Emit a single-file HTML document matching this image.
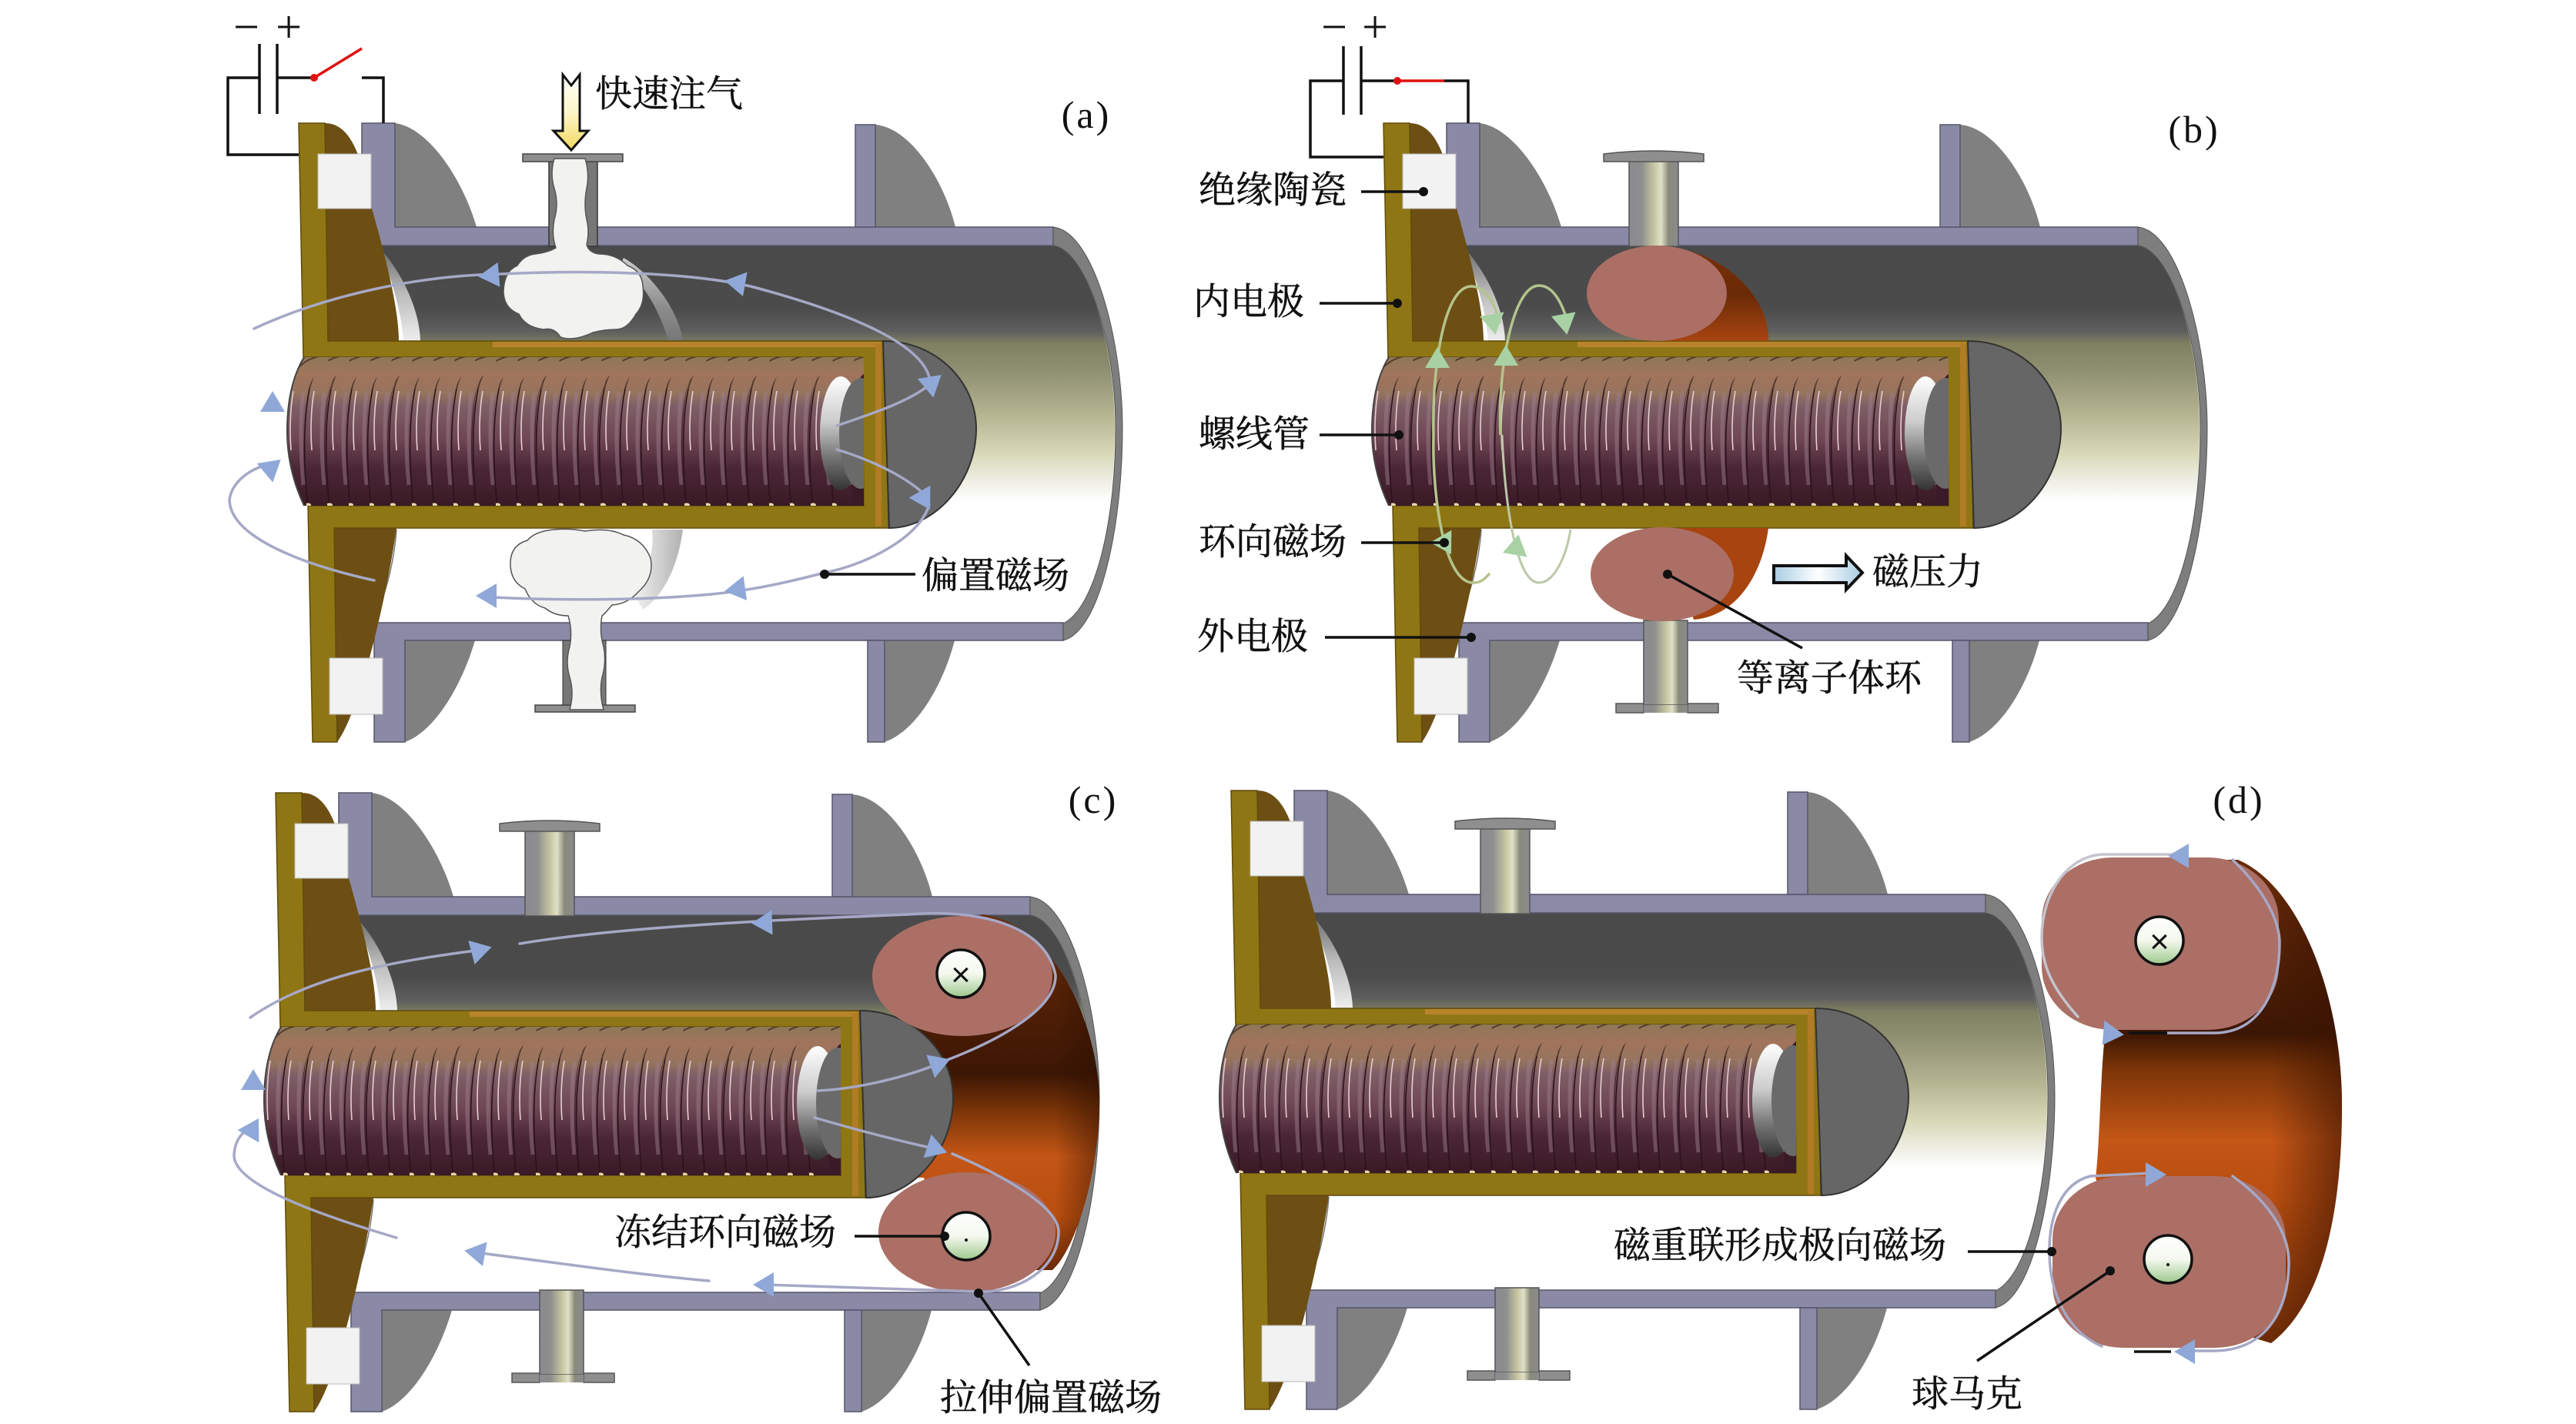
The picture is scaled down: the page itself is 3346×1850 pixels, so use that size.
<!DOCTYPE html>
<html><head><meta charset="utf-8">
<style>
html,body{margin:0;padding:0;background:#fff}
svg{display:block}
.c{font-family:"Liberation Serif","Noto Serif CJK SC",serif;font-size:48px;fill:#111;stroke:#111;stroke-width:.5px;transform:translate(-6px,-2px)}
.p{font-family:"Liberation Serif",serif;font-size:50px;letter-spacing:3px;fill:#111;text-anchor:middle;transform:translate(-6px,-4px)}
.s{font-family:"Liberation Serif",serif;font-size:60px;fill:#111;text-anchor:middle;transform:translate(-2px,0)}
.f{fill:none;stroke:#a6a8c6;stroke-width:3.5;stroke-linecap:round}
.g{fill:none;stroke:#b4c48c;stroke-width:3.5}
.w{fill:none;stroke:#111;stroke-width:3.5}
.l{stroke:#111;stroke-width:3.5}
</style></head>
<body>
<svg xmlns="http://www.w3.org/2000/svg" width="3346" height="1850" viewBox="0 0 3346 1850">
<defs>
<linearGradient id="inner" gradientUnits="userSpaceOnUse" x1="0" y1="319" x2="0" y2="810">
<stop offset="0" stop-color="#4a4a4a"/><stop offset=".165" stop-color="#4b4b4b"/><stop offset=".226" stop-color="#5e5e5e"/><stop offset=".26" stop-color="#7f7f62"/><stop offset=".33" stop-color="#8f8f72"/><stop offset=".45" stop-color="#b5b592"/><stop offset=".55" stop-color="#d8d8b8"/><stop offset=".617" stop-color="#ecece0"/><stop offset=".675" stop-color="#fff"/><stop offset="1" stop-color="#fff"/>
</linearGradient>
<linearGradient id="cres" x1="0" y1="0" x2="0" y2="1"><stop offset="0" stop-color="#666"/><stop offset=".5" stop-color="#bbb"/><stop offset="1" stop-color="#eee"/></linearGradient>
<linearGradient id="cr2" x1="0" y1="0" x2="0" y2="1"><stop offset="0" stop-color="#ccc"/><stop offset=".6" stop-color="#8c8c8c"/><stop offset="1" stop-color="#777"/></linearGradient>
<linearGradient id="cr3" x1="0" y1="0" x2="1" y2="0"><stop offset="0" stop-color="#f4f4f4"/><stop offset="1" stop-color="#b0b0b0"/></linearGradient>
<linearGradient id="coilg" gradientUnits="userSpaceOnUse" x1="0" y1="464" x2="0" y2="657">
<stop offset="0" stop-color="#8e7858"/><stop offset=".12" stop-color="#a2745c"/><stop offset=".24" stop-color="#96745e"/><stop offset=".33" stop-color="#7e5e66"/><stop offset=".55" stop-color="#6e4654"/><stop offset=".75" stop-color="#4a2634"/><stop offset="1" stop-color="#3a1a26"/>
</linearGradient>
<linearGradient id="silver" x1="0" y1="0" x2="0" y2="1"><stop offset="0" stop-color="#fff"/><stop offset=".4" stop-color="#ccc"/><stop offset=".7" stop-color="#777"/><stop offset="1" stop-color="#333"/></linearGradient>
<linearGradient id="metal" x1="0" y1="0" x2="1" y2="0"><stop offset="0" stop-color="#8a8a90"/><stop offset=".25" stop-color="#8e8e8e"/><stop offset=".5" stop-color="#c4c4a0"/><stop offset=".65" stop-color="#e0e0c8"/><stop offset=".8" stop-color="#8a8a7a"/><stop offset="1" stop-color="#8a8a90"/></linearGradient>
<linearGradient id="core" x1="0" y1="0" x2="0" y2="1"><stop offset="0" stop-color="#fff"/><stop offset=".5" stop-color="#f4f8ee"/><stop offset="1" stop-color="#9cc88c"/></linearGradient>
<linearGradient id="arrowY" x1="0" y1="0" x2="0" y2="1"><stop offset="0" stop-color="#fff"/><stop offset=".5" stop-color="#fdf6c8"/><stop offset="1" stop-color="#f2d860"/></linearGradient>
<linearGradient id="arrowB" x1="0" y1="0" x2="1" y2="0"><stop offset="0" stop-color="#a8cce4"/><stop offset=".5" stop-color="#fff"/><stop offset="1" stop-color="#a8cce4"/></linearGradient>
<linearGradient id="ob" x1="0" y1="0" x2="0" y2="1"><stop offset="0" stop-color="#7a3208"/><stop offset=".5" stop-color="#6a2a06"/><stop offset="1" stop-color="#a84410"/></linearGradient>
<linearGradient id="oc" gradientUnits="userSpaceOnUse" x1="0" y1="1188" x2="0" y2="1650">
<stop offset="0" stop-color="#6a2c08"/><stop offset=".45" stop-color="#3c1604"/><stop offset=".55" stop-color="#7a3408"/><stop offset=".68" stop-color="#c45616"/><stop offset=".85" stop-color="#b84e10"/><stop offset="1" stop-color="#6a2a08"/>
</linearGradient>
<linearGradient id="od" gradientUnits="userSpaceOnUse" x1="0" y1="1117" x2="0" y2="1745">
<stop offset="0" stop-color="#6a2c08"/><stop offset=".36" stop-color="#3c1604"/><stop offset=".43" stop-color="#7a3408"/><stop offset=".58" stop-color="#c45616"/><stop offset=".7" stop-color="#b84e10"/><stop offset="1" stop-color="#6a2a06"/>
</linearGradient>
<linearGradient id="edgec" gradientUnits="userSpaceOnUse" x1="1370" y1="0" x2="1430" y2="0"><stop offset="0" stop-color="#2a0e00" stop-opacity="0"/><stop offset="1" stop-color="#2a0e00" stop-opacity=".5"/></linearGradient>
<linearGradient id="edged" gradientUnits="userSpaceOnUse" x1="2950" y1="0" x2="3042" y2="0"><stop offset="0" stop-color="#3a1200" stop-opacity="0"/><stop offset="1" stop-color="#3a1200" stop-opacity=".6"/></linearGradient>
<clipPath id="coilclip"><path d="M395 464L1122 464L1122 657L395 657Q373 610 373 560Q373 500 395 464Z"/></clipPath>
<g id="t">
<path d="M385 662C379 600 379 540 387 505C392 482 404 470 426 466" fill="none" stroke="url(#coilg)" stroke-width="27"/>
<path d="M373 660C367 600 367 545 375 505" fill="none" stroke="#2c121c" stroke-width="1.6"/>
<path d="M375 505C380 482 392 468 414 463" fill="none" stroke="#553a2e" stroke-width="2"/>
<path d="M378 585C376 560 377 530 381 508" fill="none" stroke="#e6ccd4" stroke-width="1.6"/>
<path d="M394 630C390 590 390 540 394 510" fill="none" stroke="#a08090" stroke-width="5" opacity=".45"/>
<ellipse cx="373" cy="656" rx="4" ry="2.5" fill="#e8d8a8"/>
</g>
<path id="dome" d="M1147 443C1215 443 1268 495 1268 557C1268 625 1215 686 1155 686Z" fill="#666" stroke="#333" stroke-width="2"/>
<polygon id="ah" points="14,0 -13,-16 -13,16" fill="#8fa8d8"/>
<polygon id="ag" points="14,0 -13,-16 -13,16" fill="#a8d2a4"/>
<g id="dev">
<path d="M490 319L1368 319C1410 325 1448 440 1448 557C1448 680 1420 790 1381 810L490 810L480 810C505 760 515 720 515 688L546 660L546 443C540 400 520 350 490 319Z" fill="url(#inner)"/>
<path d="M490 319C520 350 545 400 546 443L524 443C521 400 505 350 490 319Z" fill="url(#cres)"/>
<path d="M515 688C512 730 500 780 482 810" fill="none" stroke="#777" stroke-width="1.5"/>
<path d="M513 160C555 165 600 230 619 295L513 295Z" fill="#808080"/>
<path d="M1137 162C1180 165 1225 230 1241 295L1137 295Z" fill="#808080"/>
<path d="M526 832L617 832C600 890 565 950 526 964Z" fill="#808080"/>
<path d="M1149 832L1240 832C1225 890 1190 950 1149 964Z" fill="#808080"/>
<path d="M470 160L513 160L513 295L1368 295L1368 319L484 319L470 300Z" fill="#8a8aa6" stroke="#55556a" stroke-width="1.5"/>
<path d="M1111 162L1137 162L1137 295L1111 295Z" fill="#8a8aa6" stroke="#55556a" stroke-width="1.5"/>
<path d="M486 809L1381 809L1381 832L526 832L526 964L486 964Z" fill="#8a8aa6" stroke="#55556a" stroke-width="1.5"/>
<path d="M1127 832L1149 832L1149 964L1127 964Z" fill="#8a8aa6" stroke="#55556a" stroke-width="1.5"/>
<path d="M1368 295C1420 300 1458 440 1458 557C1458 680 1430 820 1381 832L1381 810C1422 790 1449 680 1449 557C1449 440 1410 325 1368 319Z" fill="#7e7e7e" stroke="#555" stroke-width="1"/>
<path d="M422 160C450 160 468 190 480 260C500 330 518 400 518 443L426 443Z" fill="#6d4f14"/>
<path d="M434 686L515 686C505 760 470 920 438 964Z" fill="#6d4f14"/>
<polygon points="388,160 422,160 426,443 1150,443 1154,686 434,686 438,964 406,964 400,657 1122,657 1120,464 394,464" fill="#8f7614" stroke="#5e4c0c" stroke-width="1.5"/>
<rect x="640" y="444" width="505" height="7" fill="#b8842a"/>
<rect x="1137" y="446" width="8" height="238" fill="#b07c24"/>
<g clip-path="url(#coilclip)">
<rect x="373" y="464" width="750" height="193" fill="#3a1a26"/>
<use href="#t" x="710"/><use href="#t" x="683"/><use href="#t" x="655"/><use href="#t" x="628"/><use href="#t" x="601"/><use href="#t" x="573"/><use href="#t" x="546"/><use href="#t" x="519"/><use href="#t" x="491"/><use href="#t" x="464"/><use href="#t" x="437"/><use href="#t" x="410"/><use href="#t" x="382"/><use href="#t" x="355"/><use href="#t" x="328"/><use href="#t" x="300"/><use href="#t" x="273"/><use href="#t" x="246"/><use href="#t" x="218"/><use href="#t" x="191"/><use href="#t" x="164"/><use href="#t" x="137"/><use href="#t" x="109"/><use href="#t" x="82"/><use href="#t" x="55"/><use href="#t" x="27"/><use href="#t" x="0"/>
<ellipse cx="1092" cy="563" rx="27" ry="74" fill="url(#silver)"/>
<ellipse cx="1118" cy="563" rx="28" ry="72" fill="#6a6a6a"/>
</g>
<path d="M373 560Q373 500 395 464M373 560Q373 610 395 657" fill="none" stroke="#444" stroke-width="2"/>
<use href="#dome"/>
<rect x="413" y="200" width="69" height="71" fill="#f2f2f2" stroke="#bbb"/>
<rect x="428" y="855" width="69" height="73" fill="#f2f2f2" stroke="#bbb"/>
</g>
<g id="pipes">
<rect x="712" y="208" width="64" height="112" fill="url(#metal)" stroke="#555" stroke-width="1.5"/>
<path d="M679 200Q744 192 809 200L809 210L679 210Z" fill="#8e8e8e" stroke="#555" stroke-width="1.5"/>
<rect x="731" y="806" width="57" height="110" fill="url(#metal)" stroke="#555" stroke-width="1.5"/>
<rect x="695" y="914" width="36" height="12" fill="#8e8e8e" stroke="#555" stroke-width="1.5"/>
<rect x="788" y="914" width="40" height="12" fill="#8e8e8e" stroke="#555" stroke-width="1.5"/>
<rect x="731" y="916" width="57" height="10" fill="url(#metal)"/>
</g>
</defs>

<!-- (a) -->
<use href="#dev"/>
<rect x="713" y="208" width="63" height="112" fill="#777" stroke="#333" stroke-width="1.5"/>
<rect x="679" y="200" width="130" height="10" fill="#8e8e8e" stroke="#444" stroke-width="1.5"/>
<rect x="731" y="832" width="56" height="86" fill="#777" stroke="#333"/>
<rect x="695" y="916" width="130" height="9" fill="#8e8e8e" stroke="#444" stroke-width="1.5"/>
<path d="M810 335C845 355 880 400 887 442L868 442C855 400 835 365 805 345Z" fill="url(#cr2)"/>
<path d="M847 688L887 688C880 740 860 775 835 792L822 770C840 745 850 720 847 688Z" fill="url(#cr3)"/>
<path d="M720 206Q714 225 720 245Q726 265 720 285Q716 305 722 322Q712 328 695 330Q680 332 672 345Q655 352 654 378Q654 400 674 408Q682 425 706 428Q720 425 728 438Q745 444 770 432Q785 428 800 428Q815 428 826 408Q838 395 835 372Q834 352 815 345Q800 330 778 330Q765 328 762 318Q766 300 762 285Q758 265 762 245Q766 225 760 206Z" fill="#f2f2f1" stroke="#555" stroke-width="1.5"/>
<path d="M740 922Q746 900 740 880Q734 860 740 840Q744 820 738 800Q720 800 708 790Q690 785 682 765Q662 755 663 730Q664 708 685 702Q695 690 720 688Q740 686 760 690Q790 685 810 695Q835 700 845 725Q850 750 830 768Q815 785 795 786Q785 798 782 800Q778 820 784 840Q788 860 782 880Q778 900 784 922Z" fill="#f2f2f1" stroke="#555" stroke-width="1.5"/>
<path class="f" d="M330 427C420 385 540 358 650 356C780 350 900 355 975 372C1100 405 1195 445 1207 490"/>
<path class="f" d="M1087 553C1140 535 1185 520 1212 496"/>
<path class="f" d="M1087 584C1140 600 1185 625 1203 645"/>
<path class="f" d="M1207 655C1195 700 1120 735 1071 744C1010 760 960 770 900 774C820 780 720 780 640 776"/>
<path class="f" d="M486 754C400 735 300 700 298 650C300 625 330 605 354 603"/>
<use href="#ah" transform="translate(635,358) rotate(175)"/>
<use href="#ah" transform="translate(955,367) rotate(190)"/>
<use href="#ah" transform="translate(1212,496) rotate(-40)"/>
<use href="#ah" transform="translate(1201,650) rotate(60)"/>
<use href="#ah" transform="translate(955,766) rotate(172)"/>
<use href="#ah" transform="translate(632,774) rotate(180)"/>
<use href="#ah" transform="translate(354,522) rotate(-90)"/>
<use href="#ah" transform="translate(354,606) rotate(-40)"/>
<line class="l" x1="337" y1="57" x2="337" y2="148"/><line class="l" x1="360" y1="57" x2="360" y2="148"/>
<path class="w" d="M337 101L296 101L296 201L388 201"/>
<path class="w" d="M360 101L408 101"/>
<path class="w" d="M470 101L498 101L498 160"/>
<line x1="408" y1="101" x2="470" y2="63" stroke="#e01010" stroke-width="3.5"/>
<circle cx="408" cy="101" r="5" fill="#e01010"/>
<text class="s" x="322" y="55">−</text><text class="s" x="377" y="55">+</text>
<path d="M731 97L742 111L753 97L753 170L764 170L742 195L719 170L731 170Z" fill="url(#arrowY)" stroke="#111" stroke-width="3"/>
<text class="c" x="779" y="140">快速注气</text>
<text class="p" x="1417" y="170">(a)</text>
<line class="l" x1="1071" y1="746" x2="1189" y2="746"/><circle cx="1071" cy="746" r="6" fill="#111"/>
<text class="c" x="1203" y="766">偏置磁场</text>

<!-- (b) -->
<use href="#dev" transform="translate(1409,0)"/>
<use href="#pipes" transform="translate(1404,0)"/>
<path d="M2150 320C2240 320 2300 390 2297 443L2160 443Z" fill="url(#ob)"/>
<path d="M2160 686L2297 686C2290 740 2260 800 2200 805Z" fill="#a84410"/>
<ellipse cx="2152" cy="381" rx="91" ry="62" fill="#ab6f66"/>
<ellipse cx="2159" cy="746" rx="93" ry="61" fill="#ab6f66"/>
<path class="g" d="M1862 565C1860 480 1875 372 1911 372C1930 372 1942 395 1948 420"/>
<path class="g" d="M1862 565C1860 640 1875 760 1915 757C1925 757 1930 750 1935 745"/>
<path class="g" d="M1949 565C1945 480 1965 371 1999 371C2018 371 2030 395 2037 422"/>
<path d="M1951 565C1955 660 1970 757 1999 757C2020 757 2035 720 2040 688" fill="none" stroke="#bcc8a8" stroke-width="3"/>
<use href="#ag" transform="translate(1867,465) rotate(-90)"/>
<use href="#ag" transform="translate(1956,462) rotate(-90)"/>
<use href="#ag" transform="translate(1878,708) rotate(60)"/>
<use href="#ag" transform="translate(1970,708) rotate(-80)"/>
<use href="#ag" transform="translate(1940,421) rotate(80)"/>
<use href="#ag" transform="translate(2033,421) rotate(80)"/>
<line class="l" x1="1745" y1="60" x2="1745" y2="149"/><line class="l" x1="1768" y1="60" x2="1768" y2="149"/>
<path class="w" d="M1745 105L1702 105L1702 204L1797 204"/>
<path class="w" d="M1768 105L1813 105"/>
<path class="w" d="M1876 105L1907 105L1907 160"/>
<line x1="1813" y1="105" x2="1876" y2="105" stroke="#e01010" stroke-width="3.5"/>
<circle cx="1815" cy="105" r="5" fill="#e01010"/>
<text class="s" x="1735" y="55">−</text><text class="s" x="1788" y="55">+</text>
<text class="p" x="2856" y="189">(b)</text>
<text class="c" x="1563" y="265">绝缘陶瓷</text>
<line class="l" x1="1768" y1="249" x2="1849" y2="249"/><circle cx="1849" cy="249" r="6" fill="#111"/>
<text class="c" x="1556" y="410">内电极</text>
<line class="l" x1="1714" y1="394" x2="1815" y2="394"/><circle cx="1815" cy="394" r="6" fill="#111"/>
<text class="c" x="1563" y="582">螺线管</text>
<line class="l" x1="1714" y1="565" x2="1817" y2="565"/><circle cx="1817" cy="565" r="6" fill="#111"/>
<text class="c" x="1563" y="722">环向磁场</text>
<line class="l" x1="1768" y1="705" x2="1876" y2="705"/><circle cx="1876" cy="705" r="6" fill="#111"/>
<text class="c" x="1561" y="845">外电极</text>
<line class="l" x1="1721" y1="828" x2="1911" y2="828"/><circle cx="1911" cy="828" r="6" fill="#111"/>
<path d="M2304 735L2398 735L2398 722L2419 744L2398 766L2398 757L2304 757Z" fill="url(#arrowB)" stroke="#111" stroke-width="4"/>
<text class="c" x="2438" y="761">磁压力</text>
<line class="l" x1="2166" y1="746" x2="2341" y2="842"/><circle cx="2166" cy="746" r="6" fill="#111"/>
<text class="c" x="2262" y="899">等离子体环</text>

<!-- (c) -->
<use href="#dev" transform="translate(-30,870)"/>
<use href="#pipes" transform="translate(-30,870)"/>
<path d="M1275 1188C1370 1200 1425 1330 1428 1425C1430 1510 1400 1620 1367 1650L1230 1650L1200 1530L1190 1530L1190 1250Z" fill="url(#oc)"/>
<path d="M1275 1188C1370 1200 1425 1330 1428 1425C1430 1510 1400 1620 1367 1650L1370 1188Z" fill="url(#edgec)"/>
<use href="#dome" transform="translate(-30,870)"/>
<ellipse cx="1250" cy="1268" rx="117" ry="78" fill="#ab6f66"/>
<ellipse cx="1256" cy="1601" rx="115" ry="78" fill="#ab6f66"/>
<circle cx="1248" cy="1265" r="31" fill="url(#core)" stroke="#111" stroke-width="3.5"/>
<circle cx="1255" cy="1606" r="31" fill="url(#core)" stroke="#111" stroke-width="3.5"/>
<text x="1248" y="1281" font-family="Liberation Sans,sans-serif" font-size="44" fill="#111" text-anchor="middle">×</text>
<circle cx="1255" cy="1611" r="2" fill="#111"/>
<path class="f" d="M325 1322C400 1270 500 1250 625 1234"/>
<path class="f" d="M675 1226C800 1205 1000 1195 1180 1188C1290 1180 1360 1210 1371 1267C1372 1310 1300 1350 1233 1376C1180 1400 1110 1415 1062 1417"/>
<path class="f" d="M1058 1452C1120 1470 1180 1485 1217 1493"/>
<path class="f" d="M1237 1499C1310 1530 1375 1570 1375 1600C1375 1650 1320 1680 1271 1678L992 1669"/>
<path class="f" d="M921 1664C820 1655 720 1640 617 1627"/>
<path class="f" d="M515 1608C420 1580 304 1540 304 1501C305 1480 315 1470 329 1463"/>
<use href="#ah" transform="translate(625,1234) rotate(-15)"/>
<use href="#ah" transform="translate(990,1199) rotate(178)"/>
<use href="#ah" transform="translate(1221,1381) rotate(-20)"/>
<use href="#ah" transform="translate(1217,1493) rotate(18)"/>
<use href="#ah" transform="translate(992,1669) rotate(180)"/>
<use href="#ah" transform="translate(617,1627) rotate(190)"/>
<use href="#ah" transform="translate(329,1403) rotate(-90)"/>
<use href="#ah" transform="translate(329,1465) rotate(-60)"/>
<text class="p" x="1426" y="1060">(c)</text>
<text class="c" x="804" y="1619">冻结环向磁场</text>
<line class="l" x1="1110" y1="1606" x2="1227" y2="1606"/><circle cx="1227" cy="1606" r="6" fill="#111"/>
<text class="c" x="1227" y="1834">拉伸偏置磁场</text>
<line class="l" x1="1271" y1="1680" x2="1337" y2="1774"/><circle cx="1271" cy="1680" r="6" fill="#111"/>

<!-- (d) -->
<use href="#dev" transform="translate(1211,867)"/>
<use href="#pipes" transform="translate(1211,867)"/>
<path d="M2907 1117C2985 1150 3042 1290 3042 1436C3042 1560 3022 1690 2950 1745L2800 1700L2722 1531C2728 1480 2728 1390 2735 1338L2780 1117Z" fill="url(#od)"/>
<path d="M2907 1117C2985 1150 3042 1290 3042 1436C3042 1560 3022 1690 2950 1745Z" fill="url(#edged)"/>
<rect x="2652" y="1114" width="308" height="224" rx="92" ry="82" fill="#ab6f66"/>
<rect x="2666" y="1528" width="303" height="223" rx="92" ry="82" fill="#ab6f66"/>
<circle cx="2805" cy="1222" r="31" fill="url(#core)" stroke="#111" stroke-width="3.5"/>
<circle cx="2816" cy="1636" r="31" fill="url(#core)" stroke="#111" stroke-width="3.5"/>
<text x="2805" y="1238" font-family="Liberation Sans,sans-serif" font-size="44" fill="#111" text-anchor="middle">×</text>
<circle cx="2816" cy="1643" r="2" fill="#111"/>
<path d="M2700 1322C2662 1280 2652 1250 2652 1218C2652 1160 2686 1110 2734 1110L2830 1110" fill="none" stroke="#c4c4ce" stroke-width="3.5"/>
<path class="f" d="M2900 1117C2945 1160 2961 1200 2961 1225C2961 1280 2940 1342 2875 1342L2815 1342"/>
<path class="f" d="M2796 1524L2715 1528C2677 1538 2662 1580 2662 1625C2662 1680 2685 1730 2730 1749"/>
<path class="f" d="M2900 1528C2945 1560 2973 1600 2973 1640C2973 1700 2945 1755 2875 1755L2840 1755"/>
<line class="l" x1="2772" y1="1756" x2="2820" y2="1756"/>
<line class="l" x1="2765" y1="1342" x2="2815" y2="1342"/>
<use href="#ah" transform="translate(2830,1112) rotate(180)"/>
<use href="#ah" transform="translate(2745,1343) rotate(5)"/>
<use href="#ah" transform="translate(2800,1526) rotate(0)"/>
<use href="#ah" transform="translate(2838,1756) rotate(180)"/>
<text class="p" x="2914" y="1060">(d)</text>
<text class="c" x="2102" y="1636">磁重联形成极向磁场</text>
<line class="l" x1="2556" y1="1626" x2="2665" y2="1626"/><circle cx="2665" cy="1626" r="6" fill="#111"/>
<text class="c" x="2489" y="1829">球马克</text>
<line class="l" x1="2741" y1="1651" x2="2568" y2="1768"/><circle cx="2741" cy="1651" r="6" fill="#111"/>
</svg>
</body></html>
